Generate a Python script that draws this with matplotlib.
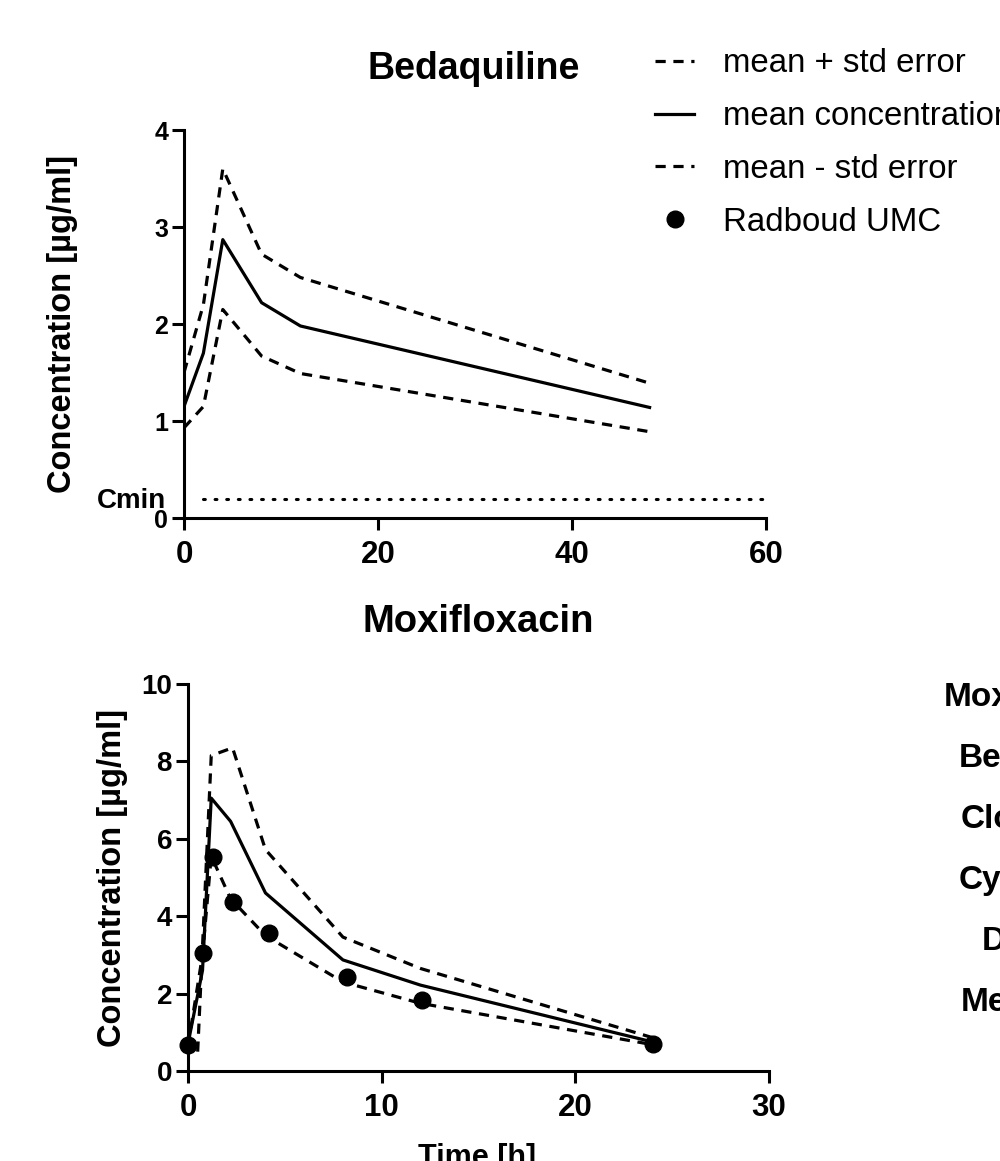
import matplotlib
matplotlib.use("Agg")
import matplotlib.pyplot as plt

plt.rcParams['font.family'] = ['Liberation Sans', 'DejaVu Sans']

# Bedaquiline (top panel)
bdq_time = [0, 2, 4, 8, 12, 48]
bdq_mean = [1.15, 1.70, 2.87, 2.22, 1.98, 1.14]
bdq_upper = [1.50, 2.20, 3.60, 2.72, 2.48, 1.39]
bdq_lower = [0.93, 1.15, 2.15, 1.67, 1.49, 0.89]
cmin_value = 0.2
cmin_span = [2, 60]

# Moxifloxacin (bottom panel)
mox_time = [0, 0.75, 1.2, 2.2, 4, 8, 12, 24]
mox_mean = [0.70, 2.60, 7.05, 6.45, 4.60, 2.87, 2.22, 0.75]
mox_up_time = [0.5, 1.2, 2.3, 4, 8, 12, 24]
mox_upper = [0.50, 8.15, 8.35, 5.72, 3.46, 2.65, 0.86]
mox_lower = [0.65, 3.00, 5.55, 4.45, 3.50, 2.30, 1.75, 0.68]
umc_time = [0, 0.8, 1.3, 2.3, 4.2, 8.2, 12.1, 24]
umc_conc = [0.67, 3.05, 5.53, 4.37, 3.57, 2.43, 1.83, 0.70]

side_labels = ["Moxifloxacin", "Bedaquiline", "Clofazimine", "Cycloserine", "Delamanid", "Meropenem"]

LW = 2.3
DASH = (0, (3.2, 2.4))


def style_axes(ax, xlim, ylim, xticks, yticks, ysize, ylab_x):
    ax.set_xlim(*xlim)
    ax.set_ylim(*ylim)
    ax.set_xticks(xticks)
    ax.set_yticks(yticks)
    for side in ['top', 'right']:
        ax.spines[side].set_visible(False)
    for side in ['left', 'bottom']:
        ax.spines[side].set_linewidth(2.2)
    ax.tick_params(direction='out', length=8.5, width=2.2)
    ax.tick_params(axis='x', labelsize=22.5, pad=7)
    ax.tick_params(axis='y', labelsize=ysize, pad=3)
    for lab in ax.get_xticklabels() + ax.get_yticklabels():
        lab.set_fontweight('bold')
    ax.set_ylabel("Concentration [µg/ml]", fontsize=23.5, fontweight='bold')
    ax.yaxis.set_label_coords(ylab_x, 0.5)


fig = plt.figure(figsize=(10, 11.61), dpi=100)

ax1 = fig.add_axes([0.184, 0.5538, 0.582, 0.3342])
ax1.plot(bdq_time, bdq_upper, color='black', lw=LW, ls=DASH)
ax1.plot(bdq_time, bdq_mean, color='black', lw=LW)
ax1.plot(bdq_time, bdq_lower, color='black', lw=LW, ls=DASH)
ax1.plot(cmin_span, [cmin_value, cmin_value], color='black', lw=2.2, ls=(0, (0.6, 3.2)),
         dash_capstyle='round')
style_axes(ax1, (0, 60), (0, 4), [0, 20, 40, 60], [0, 1, 2, 3, 4], 18, -0.182)
ax1.text(-1.8, cmin_value - 0.02, "Cmin", ha='right', va='center', fontsize=20, fontweight='bold')
ax1.text(0.498, 1.158, "Bedaquiline", transform=ax1.transAxes, ha='center', va='center',
         fontsize=27, fontweight='bold')

ax2 = fig.add_axes([0.188, 0.0775, 0.581, 0.3334])
h_up, = ax2.plot(mox_up_time, mox_upper, color='black', lw=LW, ls=DASH, label="mean + std error")
h_mean, = ax2.plot(mox_time, mox_mean, color='black', lw=LW, label="mean concentration")
h_low, = ax2.plot(mox_time, mox_lower, color='black', lw=LW, ls=DASH, label="mean - std error")
h_umc, = ax2.plot(umc_time, umc_conc, 'o', color='black', ms=12, clip_on=False, label="Radboud UMC")
style_axes(ax2, (0, 30), (0, 10), [0, 10, 20, 30], [0, 2, 4, 6, 8, 10], 20, -0.104)
ax2.text(0.498, -0.225, "Time [h]", transform=ax2.transAxes, ha='center', va='center',
         fontsize=22, fontweight='bold')
ax2.text(0.50, 1.16, "Moxifloxacin", transform=ax2.transAxes, ha='center', va='center',
         fontsize=27.5, fontweight='bold')

fig.legend(handles=[h_up, h_mean, h_low, h_umc], loc='upper left',
           bbox_to_anchor=(0.625, 0.984), frameon=False, fontsize=23.8,
           handlelength=1.2, handletextpad=0.85, labelspacing=0.66)

# right-hand labels (cut off by the figure edge)
side_x = [0.944, 0.959, 0.961, 0.959, 0.982, 0.961]
for i, name in enumerate(side_labels):
    fig.text(side_x[i], 1 - (697 + 61 * i) / 1161, name, ha='left', va='center',
             fontsize=24, fontweight='bold')

fig.savefig("out.png", dpi=100)
